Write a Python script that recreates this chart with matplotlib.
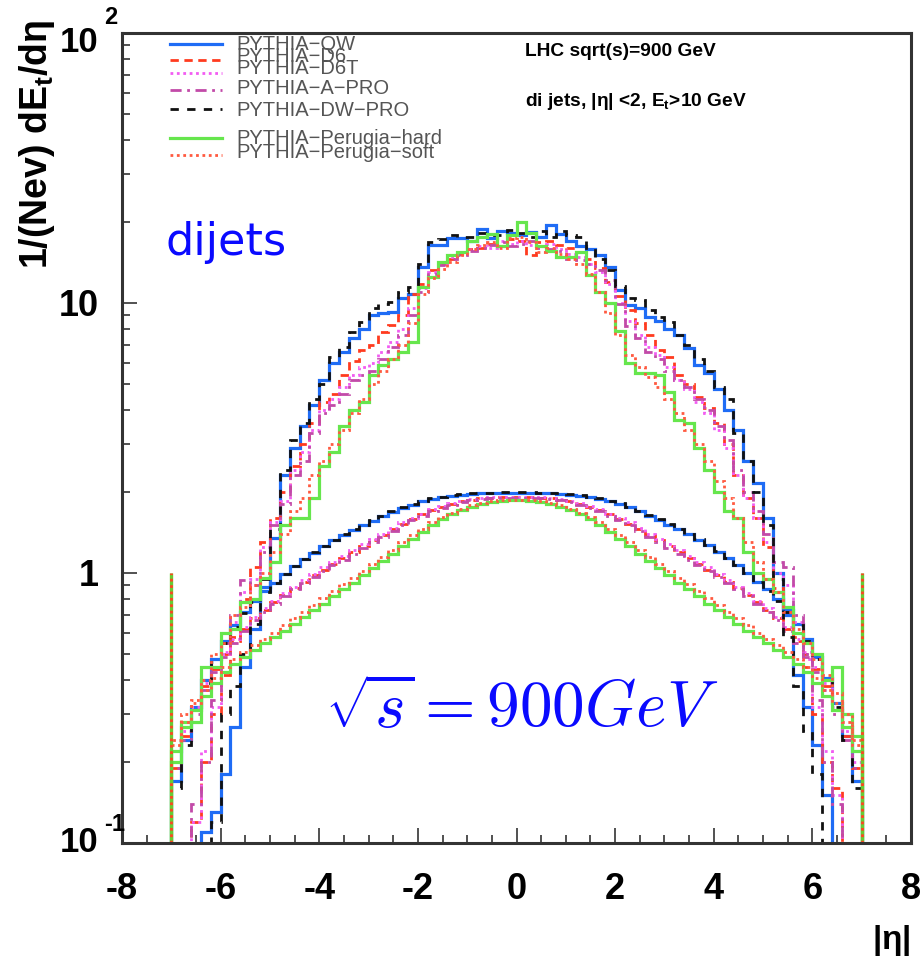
import numpy as np
import matplotlib
matplotlib.use("Agg")
import matplotlib.pyplot as plt
from matplotlib.ticker import FixedLocator, LogLocator, NullFormatter, MultipleLocator

plt.rcParams["font.family"] = ["Liberation Sans", "DejaVu Sans"]
plt.rcParams["mathtext.fontset"] = "custom"
plt.rcParams["mathtext.rm"] = "Liberation Sans:bold"
plt.rcParams["mathtext.it"] = "Liberation Sans:bold"
plt.rcParams["mathtext.bf"] = "Liberation Sans:bold"

# bins of 0.2 in eta, from -7 to 7
edges = np.round(np.arange(-7.0, 7.01, 0.2), 1)

# dijet histograms (peaked)
qw_dijet = [
    0.01, 0.01, 0.01, 0.11, 0.13, 0.18, 0.27, 0.45, 0.62, 0.89,
    1.35, 2.3, 2.9, 3.5, 4.2, 5.2, 6.0, 6.6, 7.4, 8.0,
    9.0, 9.2, 9.3, 10.4, 10.8, 13.6, 16.4, 16.4, 17.4, 17.4,
    17.0, 18.8, 17.4, 18.4, 18.2, 17.9, 18.3, 17.6, 19.5, 18.0,
    17.0, 16.2, 15.8, 15.0, 13.6, 11.2, 9.8, 9.6, 8.9, 8.6,
    8.0, 7.6, 6.8, 5.9, 5.5, 4.8, 4.0, 3.4, 2.6, 2.15,
    1.6, 1.0, 0.7, 0.42, 0.32, 0.23, 0.15, 0.01, 0.01, 0.01]
d6_dijet = [
    0.01, 0.01, 0.12, 0.20, 0.30, 0.42, 0.58, 0.80, 1.05, 1.3,
    1.6, 2.0, 2.5, 3.0, 3.6, 4.3, 4.6, 5.4, 6.1, 6.7,
    7.0, 7.8, 8.3, 9.0, 10.8, 11.8, 13.2, 14.0, 14.6, 15.2,
    15.8, 16.0, 16.6, 16.3, 17.2, 16.9, 15.0, 16.8, 16.9, 16.4,
    16.0, 15.5, 14.6, 13.5, 12.0, 10.6, 9.4, 8.4, 7.6, 6.7,
    6.3, 5.4, 5.0, 4.5, 4.1, 3.6, 3.0, 2.3, 1.9, 1.6,
    1.25, 0.88, 0.72, 0.58, 0.45, 0.30, 0.20, 0.16, 0.01, 0.01]
d6t_dijet = [
    0.01, 0.01, 0.12, 0.22, 0.32, 0.50, 0.66, 0.85, 0.95, 1.25,
    1.55, 1.85, 2.4, 2.8, 3.4, 4.0, 4.4, 4.9, 5.4, 5.8,
    6.0, 6.6, 7.2, 8.0, 9.6, 11.4, 13.0, 14.0, 14.8, 15.4,
    15.8, 16.2, 16.0, 17.0, 16.6, 17.0, 16.4, 16.2, 16.5, 15.8,
    15.2, 14.8, 14.0, 13.0, 11.8, 10.0, 8.6, 7.6, 6.9, 6.4,
    5.8, 5.2, 4.8, 4.3, 3.9, 3.4, 2.9, 2.3, 1.9, 1.6,
    1.3, 1.0, 0.9, 0.66, 0.48, 0.32, 0.22, 0.15, 0.01, 0.01]
apro_dijet = [
    0.01, 0.01, 0.14, 0.20, 0.34, 0.55, 0.70, 0.94, 0.90, 1.2,
    1.5, 1.8, 2.3, 2.6, 3.3, 3.9, 4.2, 4.6, 5.2, 5.4,
    5.6, 6.2, 6.9, 7.6, 9.0, 11.0, 12.8, 13.8, 14.6, 15.0,
    15.6, 16.0, 16.4, 16.8, 16.2, 16.6, 16.9, 16.0, 15.8, 15.6,
    14.6, 14.4, 14.0, 13.2, 12.2, 9.9, 8.2, 7.4, 6.6, 6.2,
    5.6, 5.2, 4.9, 4.4, 4.0, 3.5, 3.1, 2.4, 2.0, 1.7,
    1.4, 1.1, 1.05, 0.70, 0.50, 0.34, 0.20, 0.14, 0.01, 0.01]
dwpro_dijet = [
    0.01, 0.01, 0.01, 0.01, 0.12, 0.30, 0.38, 0.50, 0.65, 0.95,
    1.45, 2.4, 3.1, 3.6, 4.4, 5.0, 6.3, 6.9, 7.8, 8.5,
    9.6, 9.9, 10.1, 11.0, 11.5, 14.0, 16.8, 17.2, 17.8, 17.6,
    17.5, 18.2, 17.8, 17.9, 18.6, 18.2, 17.5, 18.4, 17.6, 18.5,
    17.8, 17.6, 16.0, 14.6, 13.2, 11.6, 10.4, 10.3, 9.4, 8.9,
    8.5, 7.6, 7.0, 6.2, 5.6, 4.9, 4.4, 3.3, 2.6, 2.0,
    1.5, 0.95, 0.58, 0.38, 0.26, 0.18, 0.01, 0.01, 0.01, 0.01]
hard_dijet = [
    0.20, 0.28, 0.28, 0.45, 0.45, 0.60, 0.62, 0.78, 0.80, 0.96,
    1.1, 1.5, 1.6, 1.6, 1.9, 2.5, 2.8, 3.5, 4.0, 4.3,
    5.4, 5.9, 6.2, 6.6, 7.2, 11.5, 12.5, 14.2, 15.0, 15.5,
    17.0, 17.6, 18.0, 16.2, 17.8, 20.0, 18.2, 16.2, 15.6, 14.8,
    14.8, 15.5, 12.7, 11.0, 10.0, 7.9, 6.0, 5.5, 5.5, 5.4,
    4.7, 3.7, 3.6, 2.9, 2.4, 2.0, 1.7, 1.6, 1.2, 1.0,
    0.95, 0.85, 0.75, 0.60, 0.55, 0.50, 0.40, 0.45, 0.30, 0.25]
soft_dijet = [
    0.24, 0.30, 0.34, 0.40, 0.50, 0.55, 0.70, 0.75, 0.90, 1.0,
    1.2, 1.4, 1.7, 1.9, 2.3, 2.6, 3.0, 3.4, 3.9, 4.4,
    5.0, 5.6, 6.2, 7.0, 8.4, 10.8, 12.4, 13.4, 14.2, 15.0,
    15.8, 16.4, 16.8, 16.0, 17.4, 17.6, 16.8, 15.4, 16.0, 15.2,
    14.6, 14.0, 12.8, 11.0, 9.2, 7.6, 6.4, 5.8, 5.3, 4.9,
    4.4, 3.9, 3.4, 3.0, 2.6, 2.2, 1.9, 1.6, 1.3, 1.1,
    0.95, 0.85, 0.72, 0.62, 0.55, 0.48, 0.42, 0.36, 0.30, 0.24]

# broad plateau histograms
qw_flat = [
    0.17, 0.24, 0.32, 0.40, 0.48, 0.56, 0.64, 0.72, 0.79, 0.86,
    0.92, 0.99, 1.06, 1.13, 1.19, 1.26, 1.32, 1.38, 1.44, 1.50,
    1.56, 1.62, 1.68, 1.74, 1.79, 1.84, 1.88, 1.91, 1.93, 1.95,
    1.96, 1.97, 1.97, 1.98, 1.98, 1.98, 1.98, 1.97, 1.97, 1.96,
    1.95, 1.93, 1.91, 1.88, 1.84, 1.80, 1.75, 1.69, 1.63, 1.57,
    1.51, 1.45, 1.39, 1.33, 1.27, 1.20, 1.14, 1.07, 1.00, 0.93,
    0.87, 0.80, 0.73, 0.65, 0.57, 0.49, 0.41, 0.33, 0.25, 0.17]
d6_flat = [
    0.19, 0.25, 0.31, 0.38, 0.44, 0.50, 0.56, 0.62, 0.68, 0.73,
    0.78, 0.83, 0.88, 0.93, 0.98, 1.03, 1.08, 1.14, 1.20, 1.26,
    1.32, 1.38, 1.45, 1.52, 1.59, 1.65, 1.71, 1.76, 1.80, 1.84,
    1.87, 1.89, 1.90, 1.91, 1.91, 1.91, 1.91, 1.90, 1.89, 1.87,
    1.84, 1.80, 1.76, 1.71, 1.65, 1.59, 1.52, 1.45, 1.38, 1.32,
    1.26, 1.20, 1.14, 1.08, 1.03, 0.98, 0.93, 0.88, 0.83, 0.78,
    0.73, 0.68, 0.62, 0.56, 0.50, 0.44, 0.38, 0.31, 0.25, 0.19]
d6t_flat = [
    0.20, 0.26, 0.32, 0.39, 0.45, 0.51, 0.57, 0.63, 0.69, 0.74,
    0.79, 0.84, 0.89, 0.94, 0.99, 1.05, 1.10, 1.16, 1.22, 1.28,
    1.34, 1.40, 1.47, 1.54, 1.60, 1.66, 1.72, 1.77, 1.81, 1.85,
    1.88, 1.90, 1.91, 1.92, 1.92, 1.92, 1.92, 1.91, 1.90, 1.88,
    1.85, 1.81, 1.77, 1.72, 1.66, 1.60, 1.54, 1.47, 1.40, 1.34,
    1.28, 1.22, 1.16, 1.10, 1.05, 0.99, 0.94, 0.89, 0.84, 0.79,
    0.74, 0.69, 0.63, 0.57, 0.51, 0.45, 0.39, 0.32, 0.26, 0.20]
apro_flat = [
    0.19, 0.24, 0.30, 0.37, 0.43, 0.49, 0.55, 0.61, 0.67, 0.72,
    0.77, 0.82, 0.87, 0.92, 0.97, 1.02, 1.07, 1.12, 1.18, 1.24,
    1.30, 1.36, 1.43, 1.50, 1.57, 1.63, 1.69, 1.74, 1.79, 1.83,
    1.86, 1.88, 1.89, 1.90, 1.90, 1.90, 1.90, 1.89, 1.88, 1.86,
    1.83, 1.79, 1.74, 1.69, 1.63, 1.57, 1.50, 1.43, 1.36, 1.30,
    1.24, 1.18, 1.12, 1.07, 1.02, 0.97, 0.92, 0.87, 0.82, 0.77,
    0.72, 0.67, 0.61, 0.55, 0.49, 0.43, 0.37, 0.30, 0.24, 0.19]
dwpro_flat = [
    0.16, 0.23, 0.31, 0.39, 0.47, 0.55, 0.63, 0.71, 0.78, 0.85,
    0.92, 0.99, 1.06, 1.13, 1.20, 1.26, 1.32, 1.39, 1.45, 1.51,
    1.57, 1.63, 1.69, 1.75, 1.80, 1.85, 1.89, 1.92, 1.94, 1.96,
    1.97, 1.98, 1.98, 1.99, 1.99, 1.99, 1.99, 1.98, 1.98, 1.97,
    1.96, 1.94, 1.92, 1.89, 1.85, 1.81, 1.76, 1.70, 1.64, 1.58,
    1.52, 1.46, 1.40, 1.34, 1.27, 1.21, 1.14, 1.07, 1.00, 0.93,
    0.86, 0.79, 0.72, 0.64, 0.56, 0.48, 0.40, 0.32, 0.24, 0.16]
hard_flat = [
    0.22, 0.27, 0.31, 0.35, 0.39, 0.43, 0.46, 0.49, 0.52, 0.55,
    0.58, 0.61, 0.65, 0.69, 0.73, 0.77, 0.82, 0.87, 0.92, 0.98,
    1.04, 1.11, 1.18, 1.26, 1.34, 1.42, 1.50, 1.58, 1.65, 1.71,
    1.76, 1.80, 1.83, 1.85, 1.86, 1.86, 1.85, 1.83, 1.80, 1.76,
    1.71, 1.65, 1.58, 1.50, 1.42, 1.34, 1.26, 1.18, 1.11, 1.04,
    0.98, 0.92, 0.87, 0.82, 0.77, 0.73, 0.69, 0.65, 0.61, 0.58,
    0.55, 0.52, 0.49, 0.46, 0.43, 0.39, 0.35, 0.31, 0.27, 0.22]
soft_flat = [
    0.23, 0.28, 0.33, 0.37, 0.41, 0.45, 0.48, 0.51, 0.54, 0.57,
    0.60, 0.64, 0.68, 0.72, 0.76, 0.81, 0.86, 0.91, 0.96, 1.02,
    1.08, 1.15, 1.22, 1.30, 1.38, 1.46, 1.54, 1.61, 1.67, 1.73,
    1.78, 1.82, 1.84, 1.86, 1.87, 1.87, 1.86, 1.84, 1.82, 1.78,
    1.73, 1.67, 1.61, 1.54, 1.46, 1.38, 1.30, 1.22, 1.15, 1.08,
    1.02, 0.96, 0.91, 0.86, 0.81, 0.76, 0.72, 0.68, 0.64, 0.60,
    0.57, 0.54, 0.51, 0.48, 0.45, 0.41, 0.37, 0.33, 0.28, 0.23]

# edge spikes at |eta| = 7
spike_x = [-7.0, 7.0]
spike_top = [1.0, 1.0]

labels = ["PYTHIA\u2212QW", "PYTHIA\u2212D6", "PYTHIA\u2212D6T", "PYTHIA\u2212A\u2212PRO",
          "PYTHIA\u2212DW\u2212PRO", "PYTHIA\u2212Perugia\u2212hard", "PYTHIA\u2212Perugia\u2212soft"]
dijets = [qw_dijet, d6_dijet, d6t_dijet, apro_dijet, dwpro_dijet, hard_dijet, soft_dijet]
flats = [qw_flat, d6_flat, d6t_flat, apro_flat, dwpro_flat, hard_flat, soft_flat]
styles = [
    dict(color="#1f6cf5", lw=2.3, ls="-"),
    dict(color="#ff3b1f", lw=2.0, ls=(0, (3, 2))),
    dict(color="#f25cf2", lw=2.0, ls=(0, (1, 1.3))),
    dict(color="#c24aa8", lw=2.0, ls=(0, (4, 2, 1, 2))),
    dict(color="#111111", lw=2.0, ls=(0, (3, 3))),
    dict(color="#66e64d", lw=2.3, ls="-"),
    dict(color="#ff5a40", lw=2.0, ls=(0, (1, 1.3))),
]

# axes box in pixels of the 921x961 figure
X0, X1, Y0, Y1 = 122, 911, 33, 843
W, H = X1 - X0, Y1 - Y0

fig = plt.figure(figsize=(9.21, 9.61), dpi=100)
ax = fig.add_axes([X0 / 921, 1 - Y1 / 961, W / 921, H / 961])
ax.set_yscale("log")

for dj, fl, st in zip(dijets, flats, styles):
    ax.stairs(fl, edges, baseline=1e-3, **st)
    ax.stairs(dj, edges, baseline=1e-3, **st)

ax.vlines(spike_x, 0.1, spike_top, colors="#66cc33", lw=2.4)
ax.vlines(spike_x, 0.1, spike_top, colors="#ff4422", lw=2.0, linestyles=(0, (1, 1.3)))

ax.set_xlim(-8, 8)
ax.set_ylim(0.1, 100)

# frame and ticks, ROOT-like
for side in ["left", "bottom", "right", "top"]:
    ax.spines[side].set_linewidth(2.2)
    ax.spines[side].set_color("#333333")
ax.xaxis.set_major_locator(MultipleLocator(2))
ax.xaxis.set_minor_locator(MultipleLocator(0.5))
ax.yaxis.set_major_locator(FixedLocator([0.1, 1, 10, 100]))
ax.yaxis.set_minor_locator(LogLocator(base=10, subs=np.arange(2, 10)))
ax.yaxis.set_minor_formatter(NullFormatter())
ax.set_yticklabels(["", "1", "10", ""])
ax.set_xticks([-8, -6, -4, -2, 0, 2, 4, 6, 8])
ax.set_xticklabels(["-8", "-6", "-4", "-2", "0", "2", "4", "6", "8"])
ax.tick_params(which="both", direction="in", top=False, right=False, color="#333333", width=1.2)
ax.tick_params(which="major", length=11)
ax.tick_params(which="minor", length=6)
ax.tick_params(axis="x", which="major", pad=21, labelsize=26)
ax.tick_params(axis="y", which="major", pad=17, labelsize=26)
for lab in ax.get_xticklabels() + ax.get_yticklabels():
    lab.set_fontweight("bold")

# exponent labels drawn like ROOT (mantissa aligned, exponent raised)
ytr = ax.get_yaxis_transform()
for yv, mant_dy, expo, exp_dy in [(100, -7, "2", 11), (0.1, 0, "-1", 13)]:
    ax.annotate("10", xy=((98 - X0) / W, yv), xycoords=ytr, xytext=(0, mant_dy),
                textcoords="offset points", ha="right", va="center", fontsize=25, fontweight="bold")
    ax.annotate(expo, xy=((104 - X0) / W, yv), xycoords=ytr, xytext=(0, exp_dy),
                textcoords="offset points", ha="left", va="center", fontsize=17, fontweight="bold")

# axis titles
fig.text(37 / 921, 1 - 20 / 961, r"1/(Nev) dE$_t$/d$\eta$", rotation=90, ha="center", va="top",
         fontsize=27, fontweight="bold")
fig.text(910 / 921, 1 - 940 / 961, r"|$\eta$|", ha="right", va="center", fontsize=24, fontweight="bold")

# legend, drawn by hand to keep the crowded ROOT spacing
line_y = [44, 60, 73, 90, 109, 138, 155]
text_y = [45, 57, 69, 89, 111, 139, 152]
for lab, st, ly, ty in zip(labels, styles, line_y, text_y):
    ya = 1 - (ly - Y0) / H
    ax.plot([(170 - X0) / W, (222 - X0) / W], [ya, ya], transform=ax.transAxes,
            color=st["color"], lw=st["lw"], ls=st["ls"], clip_on=False)
    ax.text((236 - X0) / W, 1 - (ty - Y0) / H, lab, transform=ax.transAxes, ha="left",
            va="center", fontsize=14.5, color="#555555")

ax.text((525 - X0) / W, 1 - (52 - Y0) / H, "LHC sqrt(s)=900 GeV", transform=ax.transAxes,
        ha="left", va="center", fontsize=13.8, fontweight="bold")
ax.text((525 - X0) / W, 1 - (102 - Y0) / H, r"di jets, |$\eta$| <2, E$_t$>10 GeV",
        transform=ax.transAxes, ha="left", va="center", fontsize=13.8, fontweight="bold")

ax.text((165 - X0) / W, 1 - (255 - Y0) / H, "dijets", transform=ax.transAxes,
        ha="left", va="baseline", fontsize=32, color="#0a0aff", family="DejaVu Sans")
ax.text((325 - X0) / W, 1 - (728 - Y0) / H, r"$\sqrt{s} = 900 GeV$", transform=ax.transAxes,
        ha="left", va="baseline", fontsize=47, color="#0a0aff", math_fontfamily="cm")

fig.savefig("out.png", dpi=100)
